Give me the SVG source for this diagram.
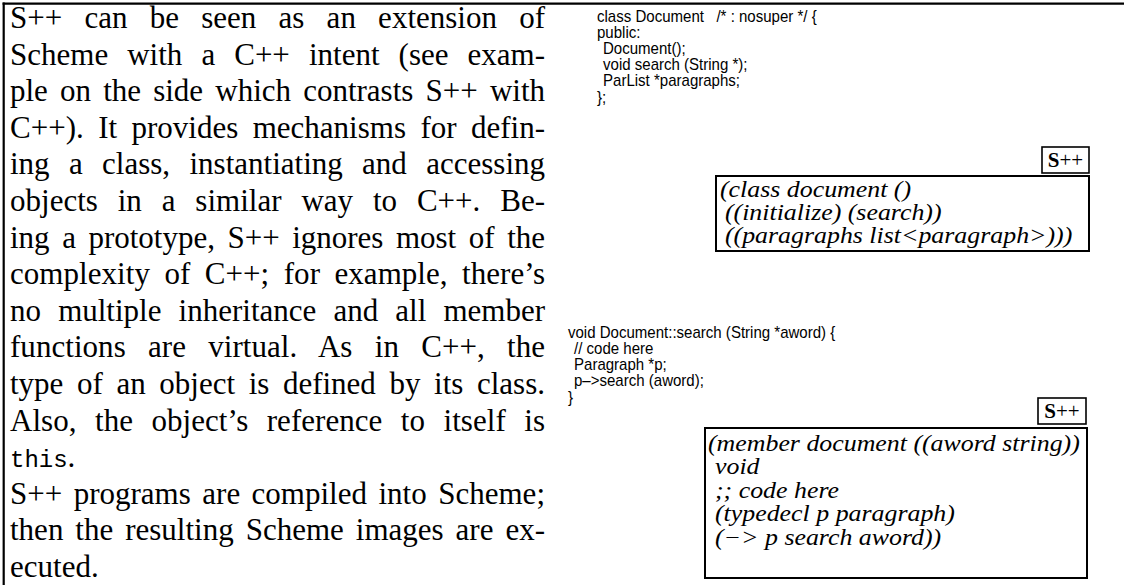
<svg xmlns="http://www.w3.org/2000/svg" width="1124" height="585" viewBox="0 0 1124 585">
<style>
.prose{font-family:"Liberation Serif","Times New Roman",serif;font-size:31px;fill:#000}
.mono{font-family:"Liberation Mono","Courier New",monospace;font-size:24px}
.code{font-family:"Liberation Sans",Arial,sans-serif;font-size:16px;fill:#000}
.spp{font-family:"Liberation Serif","Times New Roman",serif;font-style:italic;font-size:22.5px;fill:#000}
.lbl{font-family:"Liberation Serif","Times New Roman",serif;font-size:21px;fill:#000}
.box{fill:#fff;stroke:#000;stroke-width:2}
.lblbox{fill:#fff;stroke:#000;stroke-width:1.6}
.frame{stroke:#000;stroke-width:2.2;fill:none}
</style>
<rect width="1124" height="585" fill="#fff"/>
<g id="frame">
<line class="frame" x1="3.7" y1="2.6" x2="3.7" y2="585"/>
<line class="frame" x1="2.6" y1="3.7" x2="1124" y2="3.7"/>
</g>
<g id="prose" class="prose">
<text x="10" y="28" word-spacing="14.5" textLength="535" lengthAdjust="spacing">S++ can be seen as an extension of</text>
<text x="10" y="64.6" word-spacing="11.3" textLength="535" lengthAdjust="spacing">Scheme with a C++ intent (see exam-</text>
<text x="10" y="101.2" word-spacing="4.4" textLength="535" lengthAdjust="spacing">ple on the side which contrasts S++ with</text>
<text x="10" y="137.8" word-spacing="6.7" textLength="535" lengthAdjust="spacing">C++). It provides mechanisms for defin-</text>
<text x="10" y="174.4" word-spacing="11.6" textLength="535" lengthAdjust="spacing">ing a class, instantiating and accessing</text>
<text x="10" y="211" word-spacing="12.1" textLength="535" lengthAdjust="spacing">objects in a similar way to C++. Be-</text>
<text x="10" y="247.6" word-spacing="4.8" textLength="535" lengthAdjust="spacing">ing a prototype, S++ ignores most of the</text>
<text x="10" y="284.2" word-spacing="6.7" textLength="535" lengthAdjust="spacing">complexity of C++; for example, there’s</text>
<text x="10" y="320.8" word-spacing="9.4" textLength="535" lengthAdjust="spacing">no multiple inheritance and all member</text>
<text x="10" y="357.4" word-spacing="14.5" textLength="535" lengthAdjust="spacing">functions are virtual. As in C++, the</text>
<text x="10" y="394" word-spacing="5.9" textLength="535" lengthAdjust="spacing">type of an object is defined by its class.</text>
<text x="10" y="430.6" word-spacing="10.7" textLength="535" lengthAdjust="spacing">Also, the object’s reference to itself is</text>
<text x="10" y="467.2"><tspan class="mono">this</tspan>.</text>
<text x="10" y="503.8" word-spacing="3.7" textLength="535" lengthAdjust="spacing">S++ programs are compiled into Scheme;</text>
<text x="10" y="540.4" word-spacing="4.2" textLength="535" lengthAdjust="spacing">then the resulting Scheme images are ex-</text>
<text x="10" y="577">ecuted.</text>
</g>
<g id="cpp-class" class="code" transform="translate(597 0) scale(0.94 1)">
<text x="0" y="22">class Document&#160;&#160;&#160;/* : nosuper */ {</text>
<text x="0" y="38">public:</text>
<text x="6.4" y="54">Document();</text>
<text x="6.4" y="70">void search (String *);</text>
<text x="6.4" y="86">ParList *paragraphs;</text>
<text x="0" y="103">};</text>
</g>
<g id="spp-class-label">
<rect class="lblbox" x="1042" y="147" width="47" height="26"/>
<text class="lbl" x="1065.5" y="167" text-anchor="middle"><tspan font-weight="bold">S</tspan>++</text>
</g>
<g id="spp-class">
<rect class="box" x="716" y="176" width="373" height="75"/>
<g class="spp" transform="translate(720 0) scale(1.15 1)">
<text x="0" y="197.5">(class document ()</text>
<text x="4.3" y="220.5">((initialize) (search))</text>
<text x="4.3" y="243.5">((paragraphs list&lt;paragraph&gt;)))</text>
</g>
</g>
<g id="cpp-member" class="code" transform="translate(568 0) scale(0.94 1)">
<text x="0" y="338">void Document::search (String *aword) {</text>
<text x="6.4" y="354">// code here</text>
<text x="6.4" y="370">Paragraph *p;</text>
<text x="6.4" y="386">p–&gt;search (aword);</text>
<text x="0" y="403">}</text>
</g>
<g id="spp-member-label">
<rect class="lblbox" x="1038" y="398" width="48" height="26"/>
<text class="lbl" x="1062" y="418" text-anchor="middle"><tspan font-weight="bold">S</tspan>++</text>
</g>
<g id="spp-member">
<rect class="box" x="705" y="428" width="382" height="150"/>
<g class="spp" transform="translate(708 0) scale(1.15 1)">
<text x="0" y="451">(member document ((aword string))</text>
<text x="6.1" y="474.5">void</text>
<text x="6.1" y="498">;; code here</text>
<text x="6.1" y="521.5">(typedecl p paragraph)</text>
<text x="6.1" y="545">(−&gt; p search aword))</text>
</g>
</g>
</svg>
